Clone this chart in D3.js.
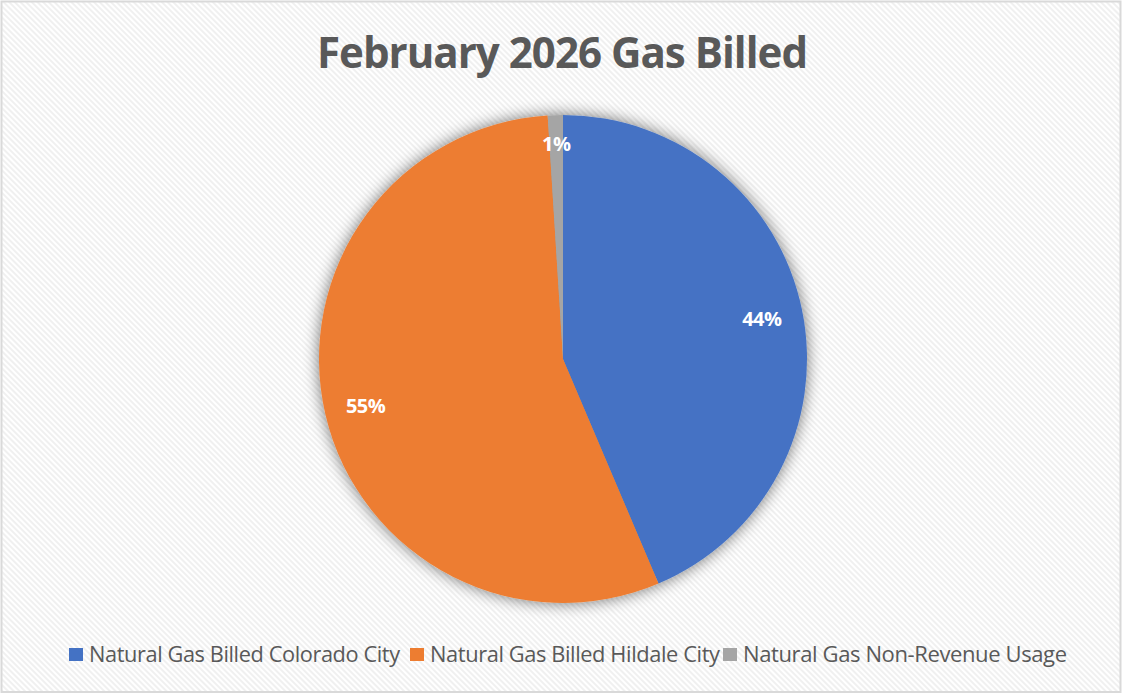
<!DOCTYPE html>
<html>
<head>
<meta charset="utf-8">
<script src="https://cdn.jsdelivr.net/npm/d3@7"></script>
<style>
	body { margin: 0; background: #fff; }
	text { font-family: "Open Sans", "DejaVu Sans", sans-serif; }
</style>
</head>
<body>
<script>
// chart data
var title = "February 2026 Gas Billed";
var categories = ["Natural Gas Billed Colorado City", "Natural Gas Billed Hildale City", "Natural Gas Non-Revenue Usage"];
var values = [43.6, 55.4, 1.0];
var labels = ["44%", "55%", "1%"];
var colors = ["#4472C4", "#ED7D31", "#A5A5A5"];

var width = 1122,
	height = 694,
	cx = 563,
	cy = 359,
	radius = 244;

var svg = d3.select("body").append("svg")
	.attr("width", width)
	.attr("height", height);

var defs = svg.append("defs");

// light diagonal stripe background
var pat = defs.append("pattern")
	.attr("id", "stripes")
	.attr("patternUnits", "userSpaceOnUse")
	.attr("width", 4)
	.attr("height", 4)
	.attr("patternTransform", "rotate(-45)");
pat.append("rect").attr("width", 4).attr("height", 4).attr("fill", "#ffffff");
pat.append("rect").attr("width", 2).attr("height", 4).attr("fill", "#f0f0f0");

// soft shadow around the pie
var shadow = defs.append("filter")
	.attr("id", "shadow")
	.attr("x", "-20%").attr("y", "-20%")
	.attr("width", "140%").attr("height", "140%");
shadow.append("feGaussianBlur")
	.attr("in", "SourceAlpha")
	.attr("stdDeviation", 8)
	.attr("result", "blur");
shadow.append("feComponentTransfer")
	.attr("in", "blur")
	.attr("result", "soft")
	.append("feFuncA").attr("type", "linear").attr("slope", 0.55);
var merge = shadow.append("feMerge");
merge.append("feMergeNode").attr("in", "soft");
merge.append("feMergeNode").attr("in", "SourceGraphic");

svg.append("rect")
	.attr("x", 1.5).attr("y", 1.5)
	.attr("width", width - 3).attr("height", height - 3.5)
	.attr("fill", "url(#stripes)")
	.attr("stroke", "#d9d9d9")
	.attr("stroke-width", 2);

// fit a text element's font size so it spans the given width
function fitText(sel, targetWidth, startSize) {
	sel.style("font-size", startSize + "px");
	var w = sel.node().getComputedTextLength();
	sel.style("font-size", (startSize * targetWidth / w) + "px");
}

// title
var t = svg.append("text")
	.attr("x", 562)
	.attr("y", 68)
	.attr("text-anchor", "middle")
	.attr("fill", "#595959")
	.style("font-weight", "bold")
	.style("letter-spacing", "-1px")
	.text(title);
fitText(t, 489, 40);

// pie
var pie = d3.pie().sort(null).value(function(d) { return d; });
var arc = d3.arc().innerRadius(0).outerRadius(radius);
var arcs = pie(values);

var g = svg.append("g")
	.attr("transform", "translate(" + cx + "," + cy + ")");

g.append("g")
	.attr("filter", "url(#shadow)")
	.selectAll("path")
	.data(arcs).enter()
		.append("path")
		.attr("d", arc)
		.attr("fill", function(d, i) { return colors[i]; });

// data labels, placed inside the end of each slice
var lbl = g.selectAll(".label")
	.data(arcs).enter()
		.append("text")
		.attr("class", "label")
		.attr("text-anchor", "middle")
		.attr("dominant-baseline", "central")
		.attr("fill", "#ffffff")
		.style("font-weight", "bold")
		.style("font-size", "20px")
		.style("letter-spacing", "-0.5px")
		.text(function(d, i) { return labels[i]; });

lbl.each(function(d) {
	var bb = this.getBBox();
	var a = (d.startAngle + d.endAngle) / 2;
	var s = Math.sin(a), c = Math.cos(a);
	var ext = Math.abs(s) * bb.width / 2 + Math.abs(c) * 15 / 2;
	var dist = radius - 20 - ext;
	d3.select(this)
		.attr("x", s * dist)
		.attr("y", -c * dist);
});

// legend
var legendX = [69, 410, 723],
	textW = [309, 288, 322];
var leg = svg.append("g").attr("class", "legend");
categories.forEach(function(name, i) {
	leg.append("rect")
		.attr("x", legendX[i])
		.attr("y", 648)
		.attr("width", 14)
		.attr("height", 13)
		.attr("fill", colors[i]);
	var lt = leg.append("text")
		.attr("x", legendX[i] + 20)
		.attr("y", 662)
		.attr("fill", "#595959")
		.style("letter-spacing", "-0.4px")
		.text(name);
	fitText(lt, textW[i], 19);
});
</script>
</body>
</html>
